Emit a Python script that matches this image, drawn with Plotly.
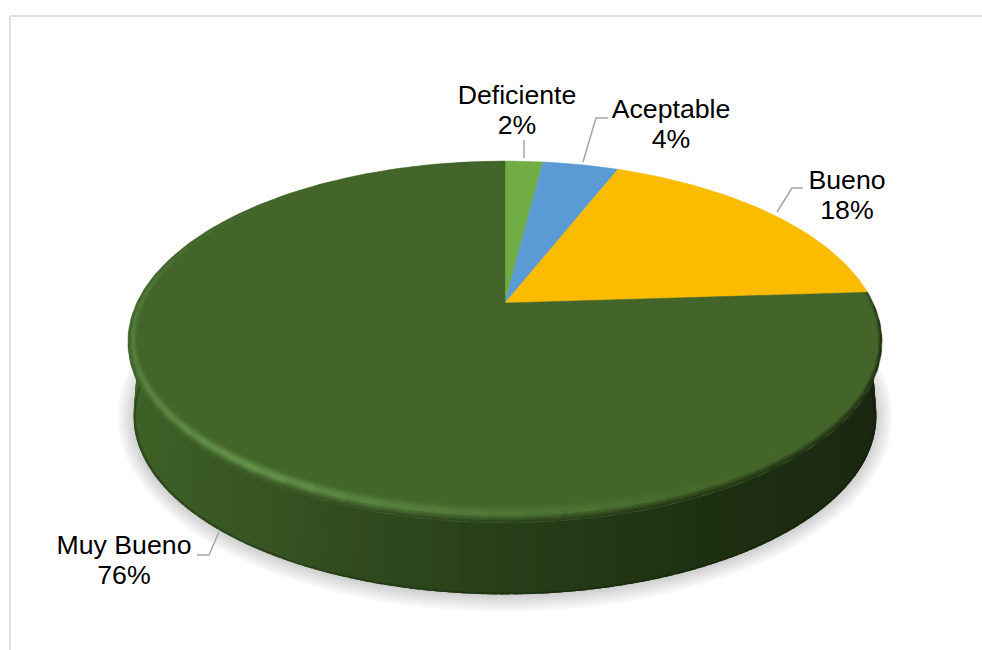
import numpy as np
import plotly.graph_objects as go

# ---- data ----
categories = ["Deficiente", "Aceptable", "Bueno", "Muy Bueno"]
values = [2, 4, 18, 76]
colors = ["#70AD47", "#5B9BD5", "#FBBC00", "#43652A"]
label_pos = [(517, 97), (671, 111), (847, 182), (124, 547)]
leaders = [
    [(524, 140), (524, 158)],
    [(608, 118), (596, 118), (583, 162)],
    [(803, 188), (792, 188), (777, 212)],
    [(197, 555), (209, 555), (219, 532)],
]

# ---- projection of the tilted disc ----
K = 0.215
CX, CY, A, B = 505.0, 303.0, 368.3, 172.5
DEPTH, BOTTOM_SCALE = 75.0, 0.985


def proj(theta_deg, r=1.0, drop=0.0, scale=1.0):
    t = np.radians(theta_deg)
    x, y = r * np.sin(t), r * np.cos(t)
    w = 1 + K * y
    return CX + scale * A * x / w, CY + drop - scale * B * y / w


def hex2rgb(c):
    return np.array([int(c[i:i + 2], 16) for i in (1, 3, 5)], float)


def rgbstr(v):
    return "rgb(%d,%d,%d)" % tuple(np.clip(np.round(v), 0, 255))


def poly(xs, ys, fill, line=None, lw=0.0):
    return go.Scatter(
        x=list(xs), y=list(ys), mode="lines", fill="toself", fillcolor=fill,
        line=dict(color=line or fill, width=lw), hoverinfo="skip", showlegend=False,
    )


fig = go.Figure()

# soft ground shadow
th = np.linspace(0, 360, 181)
sx, sy = proj(th, drop=DEPTH, scale=BOTTOM_SCALE)
smid = (sy.min() + sy.max()) / 2
for i in range(12):
    grow = 18 - i * 1.6
    ex = CX + (sx - CX) * (1 + grow / 400)
    ey = smid + (sy - smid) * (1 + grow / 190) + 1
    fig.add_trace(poly(ex, ey, "rgba(0,0,0,0.016)", "rgba(0,0,0,0)", 0))

# cumulative angles come straight from the values
total = sum(values)
edges = np.concatenate([[0], np.cumsum(values)]) / total * 360

# side wall of the visible slice, shaded by horizontal position
top_rgb = hex2rgb(colors[3])
shade_x = [-1.0, -0.55, -0.05, 0.45, 1.0]
shade_c = np.array([hex2rgb(c) for c in ["#3F6328", "#375422", "#28401A", "#1E3012", "#1A2610"]])


def side_colour(theta):
    xn = np.sin(np.radians(theta))
    return np.array([np.interp(xn, shade_x, shade_c[:, i]) for i in range(3)])


side_th = np.linspace(max(edges[3], 80), 282, 121)
step = side_th[1] - side_th[0]
for a in side_th[:-1]:
    b = a + step * 1.8  # overlap the next strip, painter's order hides seams
    col = side_colour(a + step / 2)
    x1, y1 = proj(a, r=0.97)
    x2, y2 = proj(b, r=0.97)
    x3, y3 = proj(b, drop=DEPTH, scale=BOTTOM_SCALE)
    x4, y4 = proj(a, drop=DEPTH, scale=BOTTOM_SCALE)
    fig.add_trace(poly([x1, x2, x3, x4, x1], [y1, y2, y3, y4, y1], rgbstr(col)))
lip = np.linspace(max(edges[3], 80), 282, 121)
lx_o, ly_o = proj(lip, drop=DEPTH, scale=BOTTOM_SCALE)
lx_i, ly_i = proj(lip, r=0.994, drop=DEPTH, scale=BOTTOM_SCALE)
fig.add_trace(poly(np.r_[lx_o, lx_i[::-1]], np.r_[ly_o, ly_i[::-1]], "rgba(10,20,5,0.28)"))

# top faces of the slices
for i, cat in enumerate(categories):
    t = np.linspace(edges[i], edges[i + 1], max(8, int(values[i] * 3)))
    x, y = proj(t)
    fig.add_trace(
        go.Scatter(
            x=np.r_[CX, x, CX], y=np.r_[CY, y, CY], mode="lines", fill="toself",
            fillcolor=colors[i], line=dict(color=colors[i], width=0.5),
            name=cat, hoverinfo="skip", showlegend=False,
        )
    )

# bevel round the rim of the large slice, graded in several thin rings
hl_th = [86, 150, 190, 215, 250, 300, 360]
hl_v = [0.0, 0.03, 0.45, 0.85, 0.5, 0.22, 0.0]
fr_th = [86, 100, 250, 272, 360]
fr_v = [0.5, 1.0, 1.0, 0.0, 0.0]
highlight = hex2rgb("#6B9C52")
rims = np.linspace(0.978, 1.0, 9)
rim_th = np.linspace(edges[3], 360, 61)
rstep = rim_th[1] - rim_th[0]


def rim_point(theta, r):
    x, y = proj(theta, r=r)
    lift = (1 - r) * 500 * max(0.0, -np.cos(np.radians(theta)))
    return x, y - lift


for a in rim_th[:-1]:
    b = min(a + rstep * 1.5, 360)
    m = a + rstep / 2
    h = np.interp(m, hl_th, hl_v)
    fr = np.interp(m, fr_th, fr_v)
    outer = (1 - fr) * top_rgb + fr * side_colour(m)
    lit = (1 - h) * top_rgb + h * highlight
    for j in range(8):
        u = (j + 0.5) / 8
        stops = np.array([top_rgb, lit, lit, 0.5 * lit + 0.5 * outer, outer])
        col = np.array([np.interp(u, [0, 0.4, 0.55, 0.75, 1.0], stops[:, c]) for c in range(3)])
        x1, y1 = rim_point(a, rims[j])
        x2, y2 = rim_point(b, rims[j])
        x3, y3 = rim_point(b, rims[j + 1])
        x4, y4 = rim_point(a, rims[j + 1])
        fig.add_trace(poly([x1, x2, x3, x4, x1], [y1, y2, y3, y4, y1], rgbstr(col)))

# leader lines
for pts in leaders:
    fig.add_trace(go.Scatter(
        x=[p[0] for p in pts], y=[p[1] for p in pts], mode="lines",
        line=dict(color="#A6A6A6", width=1.5), hoverinfo="skip", showlegend=False,
    ))

# data labels (two separate lines so the line pitch can match)
FONT = dict(family="Liberation Sans, Arial, sans-serif", size=26.7, color="#000000")
fig.add_trace(go.Scatter(
    x=[p[0] for p in label_pos], y=[p[1] for p in label_pos], mode="text",
    text=categories, textposition="middle center", textfont=FONT,
    hoverinfo="skip", showlegend=False,
))
fig.add_trace(go.Scatter(
    x=[p[0] for p in label_pos], y=[p[1] + 30.5 for p in label_pos], mode="text",
    text=[f"{v}%" for v in values], textposition="middle center", textfont=FONT,
    hoverinfo="skip", showlegend=False,
))

# chart frame (top and left edges are all that is visible)
frame = dict(type="line", line=dict(color="#E0E0E0", width=2), layer="below")
fig.update_layout(
    width=982, height=650, margin=dict(l=0, r=0, t=0, b=0),
    paper_bgcolor="white", plot_bgcolor="white", showlegend=False,
    xaxis=dict(range=[0, 982], visible=False, fixedrange=True),
    yaxis=dict(range=[650, 0], visible=False, fixedrange=True),
    shapes=[
        dict(x0=10, x1=982, y0=16, y1=16, **frame),
        dict(x0=10, x1=10, y0=16, y1=650, **frame),
    ],
)
fig.write_html(
    "out.html",
    config=dict(displayModeBar=False),
    post_script="document.body.style.margin='0';",
)
